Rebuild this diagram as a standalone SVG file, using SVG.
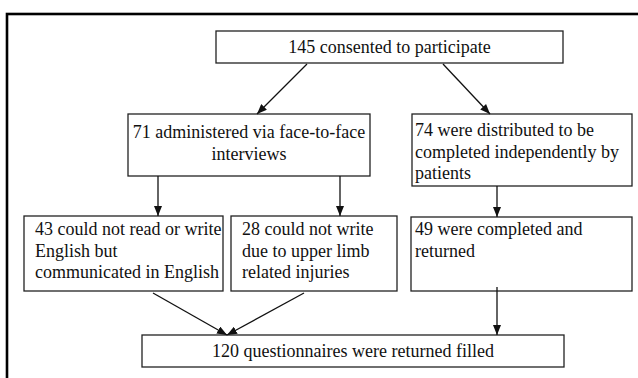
<svg xmlns="http://www.w3.org/2000/svg" width="638" height="378" viewBox="0 0 638 378">
<style>
.box{fill:#fff;stroke:#222;stroke-width:1.3}
.t{font-family:"Liberation Serif","Times New Roman",serif;font-size:18px;fill:#111}
.c{text-anchor:middle}
.con{stroke:#111;stroke-width:1.3;fill:none;marker-end:url(#ah)}
</style>
<defs>
<marker id="ah" markerUnits="userSpaceOnUse" markerWidth="10" markerHeight="8" refX="10" refY="4" orient="auto">
<path d="M0,0 L10,4 L0,8 z" fill="#111"/>
</marker>
</defs>
<rect x="0" y="0" width="638" height="378" fill="#fff"/>
<rect x="7" y="14" width="650" height="400" fill="none" stroke="#000" stroke-width="2.6"/>
<g id="n1"><rect class="box" x="216" y="31" width="347" height="32"/><text class="t c" x="389.5" y="53">145 consented to participate</text></g>
<g id="n2"><rect class="box" x="128" y="114" width="242" height="62"/><text class="t c" x="249" y="138">71 administered via face-to-face</text><text class="t c" x="249" y="160">interviews</text></g>
<g id="n3"><rect class="box" x="412" y="114" width="220" height="72"/><text class="t" x="415" y="136">74 were distributed to be</text><text class="t" x="415" y="157.5">completed independently by</text><text class="t" x="415" y="179">patients</text></g>
<g id="n4"><rect class="box" x="24" y="216" width="199" height="75"/><text class="t" x="35" y="235">43 could not read or write</text><text class="t" x="35" y="256.5">English but</text><text class="t" x="35" y="278">communicated in English</text></g>
<g id="n5"><rect class="box" x="231" y="216" width="166" height="75"/><text class="t" x="242" y="235">28 could not write</text><text class="t" x="242" y="256.5">due to upper limb</text><text class="t" x="242" y="278">related injuries</text></g>
<g id="n6"><rect class="box" x="411" y="217" width="221" height="74"/><text class="t" x="415" y="235">49 were completed and</text><text class="t" x="415" y="257">returned</text></g>
<g id="n7"><rect class="box" x="142" y="335" width="422" height="32"/><text class="t c" x="353" y="357">120 questionnaires were returned filled</text></g>
<g id="connectors">
<line class="con" x1="307" y1="64" x2="257" y2="114"/>
<line class="con" x1="443" y1="64" x2="490" y2="114"/>
<line class="con" x1="158" y1="176" x2="158" y2="216"/>
<line class="con" x1="340" y1="176" x2="340" y2="216"/>
<line class="con" x1="497" y1="186" x2="497" y2="217"/>
<line class="con" x1="153" y1="293" x2="227" y2="335"/>
<line class="con" x1="304" y1="293" x2="227" y2="335"/>
<line class="con" x1="497" y1="287" x2="497" y2="335"/>
</g>
</svg>
